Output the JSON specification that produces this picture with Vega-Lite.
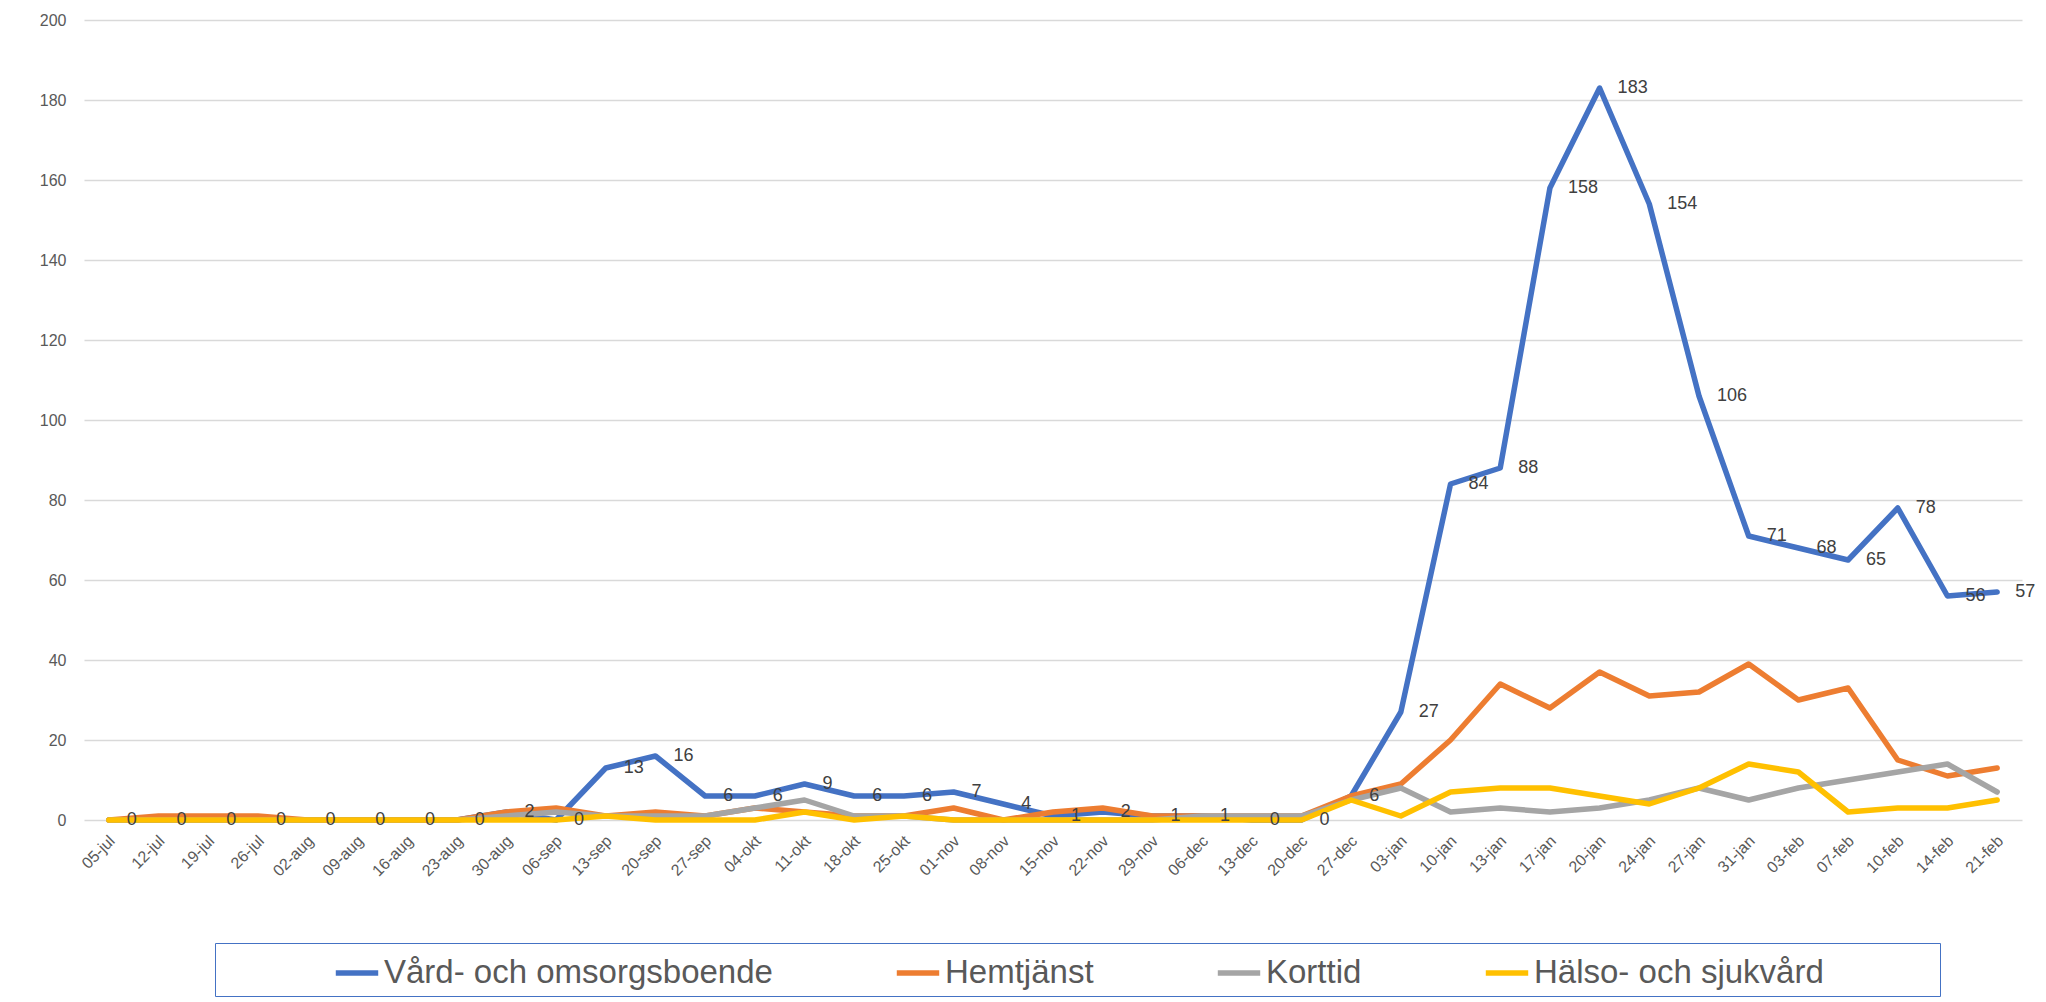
{
  "$schema": "https://vega.github.io/schema/vega-lite/v6.json",
  "width": 1938,
  "height": 800,
  "autosize": {"type": "none"},
  "padding": {"left": 84, "top": 20, "right": 24, "bottom": 182},
  "background": "white",
  "config": {"view": {"stroke": null}, "font": "Liberation Sans"},
  "data": {
    "values": [
      {"d": "05-jul", "Vård- och omsorgsboende": 0, "Hemtjänst": 0, "Korttid": 0, "Hälso- och sjukvård": 0},
      {"d": "12-jul", "Vård- och omsorgsboende": 0, "Hemtjänst": 1, "Korttid": 0, "Hälso- och sjukvård": 0},
      {"d": "19-jul", "Vård- och omsorgsboende": 0, "Hemtjänst": 1, "Korttid": 0, "Hälso- och sjukvård": 0},
      {"d": "26-jul", "Vård- och omsorgsboende": 0, "Hemtjänst": 1, "Korttid": 0, "Hälso- och sjukvård": 0},
      {"d": "02-aug", "Vård- och omsorgsboende": 0, "Hemtjänst": 0, "Korttid": 0, "Hälso- och sjukvård": 0},
      {"d": "09-aug", "Vård- och omsorgsboende": 0, "Hemtjänst": 0, "Korttid": 0, "Hälso- och sjukvård": 0},
      {"d": "16-aug", "Vård- och omsorgsboende": 0, "Hemtjänst": 0, "Korttid": 0, "Hälso- och sjukvård": 0},
      {"d": "23-aug", "Vård- och omsorgsboende": 0, "Hemtjänst": 0, "Korttid": 0, "Hälso- och sjukvård": 0},
      {"d": "30-aug", "Vård- och omsorgsboende": 2, "Hemtjänst": 2, "Korttid": 1, "Hälso- och sjukvård": 0},
      {"d": "06-sep", "Vård- och omsorgsboende": 0, "Hemtjänst": 3, "Korttid": 2, "Hälso- och sjukvård": 0},
      {"d": "13-sep", "Vård- och omsorgsboende": 13, "Hemtjänst": 1, "Korttid": 1, "Hälso- och sjukvård": 1},
      {"d": "20-sep", "Vård- och omsorgsboende": 16, "Hemtjänst": 2, "Korttid": 1, "Hälso- och sjukvård": 0},
      {"d": "27-sep", "Vård- och omsorgsboende": 6, "Hemtjänst": 1, "Korttid": 1, "Hälso- och sjukvård": 0},
      {"d": "04-okt", "Vård- och omsorgsboende": 6, "Hemtjänst": 3, "Korttid": 3, "Hälso- och sjukvård": 0},
      {"d": "11-okt", "Vård- och omsorgsboende": 9, "Hemtjänst": 2, "Korttid": 5, "Hälso- och sjukvård": 2},
      {"d": "18-okt", "Vård- och omsorgsboende": 6, "Hemtjänst": 1, "Korttid": 1, "Hälso- och sjukvård": 0},
      {"d": "25-okt", "Vård- och omsorgsboende": 6, "Hemtjänst": 1, "Korttid": 1, "Hälso- och sjukvård": 1},
      {"d": "01-nov", "Vård- och omsorgsboende": 7, "Hemtjänst": 3, "Korttid": 0, "Hälso- och sjukvård": 0},
      {"d": "08-nov", "Vård- och omsorgsboende": 4, "Hemtjänst": 0, "Korttid": 0, "Hälso- och sjukvård": 0},
      {"d": "15-nov", "Vård- och omsorgsboende": 1, "Hemtjänst": 2, "Korttid": 0, "Hälso- och sjukvård": 0},
      {"d": "22-nov", "Vård- och omsorgsboende": 2, "Hemtjänst": 3, "Korttid": 0, "Hälso- och sjukvård": 0},
      {"d": "29-nov", "Vård- och omsorgsboende": 1, "Hemtjänst": 1, "Korttid": 0, "Hälso- och sjukvård": 0},
      {"d": "06-dec", "Vård- och omsorgsboende": 1, "Hemtjänst": 1, "Korttid": 1, "Hälso- och sjukvård": 0},
      {"d": "13-dec", "Vård- och omsorgsboende": 0, "Hemtjänst": 1, "Korttid": 1, "Hälso- och sjukvård": 0},
      {"d": "20-dec", "Vård- och omsorgsboende": 0, "Hemtjänst": 1, "Korttid": 1, "Hälso- och sjukvård": 0},
      {"d": "27-dec", "Vård- och omsorgsboende": 6, "Hemtjänst": 6, "Korttid": 5, "Hälso- och sjukvård": 5},
      {"d": "03-jan", "Vård- och omsorgsboende": 27, "Hemtjänst": 9, "Korttid": 8, "Hälso- och sjukvård": 1},
      {"d": "10-jan", "Vård- och omsorgsboende": 84, "Hemtjänst": 20, "Korttid": 2, "Hälso- och sjukvård": 7},
      {"d": "13-jan", "Vård- och omsorgsboende": 88, "Hemtjänst": 34, "Korttid": 3, "Hälso- och sjukvård": 8},
      {"d": "17-jan", "Vård- och omsorgsboende": 158, "Hemtjänst": 28, "Korttid": 2, "Hälso- och sjukvård": 8},
      {"d": "20-jan", "Vård- och omsorgsboende": 183, "Hemtjänst": 37, "Korttid": 3, "Hälso- och sjukvård": 6},
      {"d": "24-jan", "Vård- och omsorgsboende": 154, "Hemtjänst": 31, "Korttid": 5, "Hälso- och sjukvård": 4},
      {"d": "27-jan", "Vård- och omsorgsboende": 106, "Hemtjänst": 32, "Korttid": 8, "Hälso- och sjukvård": 8},
      {"d": "31-jan", "Vård- och omsorgsboende": 71, "Hemtjänst": 39, "Korttid": 5, "Hälso- och sjukvård": 14},
      {"d": "03-feb", "Vård- och omsorgsboende": 68, "Hemtjänst": 30, "Korttid": 8, "Hälso- och sjukvård": 12},
      {"d": "07-feb", "Vård- och omsorgsboende": 65, "Hemtjänst": 33, "Korttid": 10, "Hälso- och sjukvård": 2},
      {"d": "10-feb", "Vård- och omsorgsboende": 78, "Hemtjänst": 15, "Korttid": 12, "Hälso- och sjukvård": 3},
      {"d": "14-feb", "Vård- och omsorgsboende": 56, "Hemtjänst": 11, "Korttid": 14, "Hälso- och sjukvård": 3},
      {"d": "21-feb", "Vård- och omsorgsboende": 57, "Hemtjänst": 13, "Korttid": 7, "Hälso- och sjukvård": 5}
    ]
  },
  "transform": [
    {"fold": ["Vård- och omsorgsboende", "Hemtjänst", "Korttid", "Hälso- och sjukvård"], "as": ["serie", "antal"]}
  ],
  "encoding": {
    "x": {
      "field": "d",
      "type": "ordinal",
      "sort": null,
      "scale": {"type": "point", "padding": 0.5},
      "axis": {
        "title": null,
        "labelAngle": -45,
        "labelAlign": "right",
        "labelBaseline": "middle",
        "labelPadding": 18,
        "labelOffset": 3,
        "ticks": false,
        "domain": false,
        "grid": false,
        "labelFontSize": 16,
        "labelColor": "#595959"
      }
    },
    "y": {
      "field": "antal",
      "type": "quantitative",
      "scale": {"domain": [0, 200], "nice": false},
      "axis": {
        "title": null,
        "values": [0, 20, 40, 60, 80, 100, 120, 140, 160, 180, 200],
        "domain": false,
        "ticks": false,
        "labelPadding": 18,
        "labelFontSize": 16,
        "labelColor": "#595959",
        "gridColor": "#d9d9d9",
        "gridWidth": 1.3
      }
    }
  },
  "layer": [
    {
      "mark": {"type": "line", "strokeJoin": "round", "strokeCap": "round"},
      "encoding": {
        "color": {
          "field": "serie",
          "type": "nominal",
          "scale": {
            "domain": ["Vård- och omsorgsboende", "Hemtjänst", "Korttid", "Hälso- och sjukvård"],
            "range": ["#4472C4", "#ED7D31", "#A5A5A5", "#FFC000"]
          },
          "legend": {
            "title": "\u00a0",
            "titleOrient": "right",
            "titlePadding": 110,
            "titleFontSize": 10,
            "orient": "none",
            "legendX": 131,
            "legendY": 923,
            "direction": "horizontal",
            "columns": 4,
            "symbolType": "stroke",
            "symbolSize": 1800,
            "symbolStrokeWidth": 6,
            "symbolOffset": 112,
            "columnPadding": 9,
            "labelOffset": 3,
            "labelFontSize": 33,
            "labelColor": "#595959",
            "labelLimit": 1000,
            "padding": 6,
            "strokeColor": "#4472C4"
          }
        },
        "strokeWidth": {
          "field": "serie",
          "type": "nominal",
          "scale": {
            "domain": ["Vård- och omsorgsboende", "Hemtjänst", "Korttid", "Hälso- och sjukvård"],
            "range": [5.5, 5.5, 5.5, 4]
          },
          "legend": null
        }
      }
    },
    {
      "transform": [{"filter": "datum.serie == 'Vård- och omsorgsboende'"}],
      "mark": {"type": "text", "align": "left", "baseline": "middle", "dx": 18, "fontSize": 18, "color": "#404040"},
      "encoding": {"text": {"field": "antal", "type": "quantitative"}}
    }
  ]
}
